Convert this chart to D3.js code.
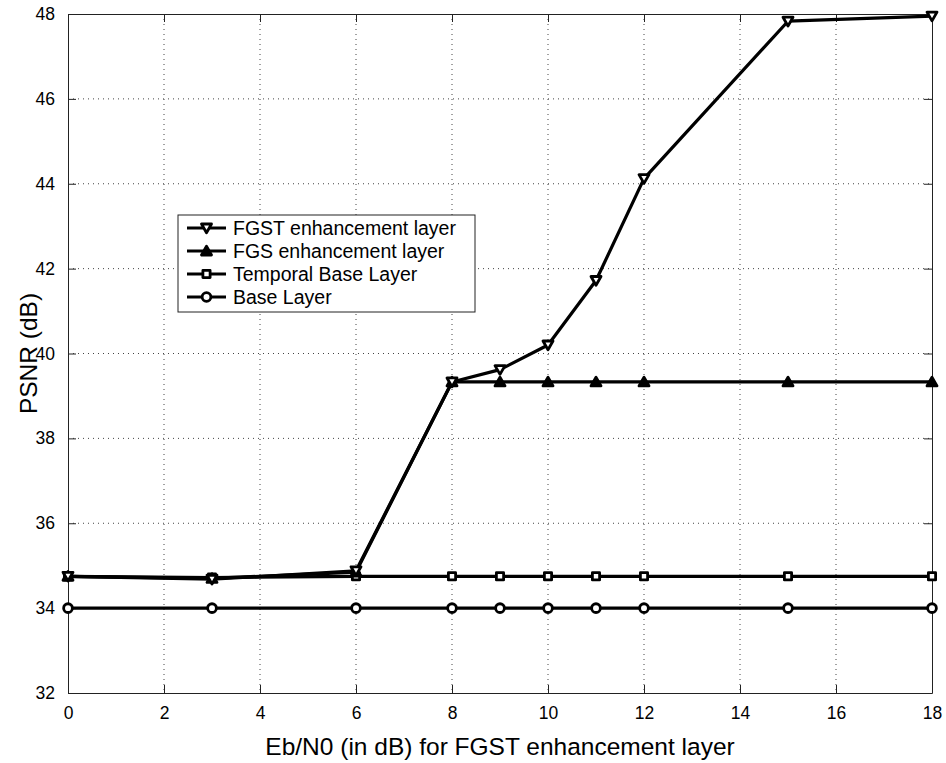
<!DOCTYPE html>
<html>
<head>
<meta charset="utf-8">
<script src="https://cdn.jsdelivr.net/npm/d3@7"></script>
<style>
  body { margin: 0; background: #fff; }
  text { font-family: "Liberation Sans", Arial, Helvetica, sans-serif; }
</style>
</head>
<body>
<div id="chart"></div>
<script>
// data
const ebn0 = [0, 3, 6, 8, 9, 10, 11, 12, 15, 18];
const fgst = [34.75, 34.68, 34.88, 39.33, 39.62, 40.2, 41.72, 44.12, 47.83, 47.95];
const fgs = [34.75, 34.7, 34.85, 39.33, 39.33, 39.33, 39.33, 39.33, 39.33, 39.33];
const temporalBase = [34.75, 34.72, 34.75, 34.75, 34.75, 34.75, 34.75, 34.75, 34.75, 34.75];
const baseLayer = [34, 34, 34, 34, 34, 34, 34, 34, 34, 34];
const xTicks = [0, 2, 4, 6, 8, 10, 12, 14, 16, 18];
const yTicks = [32, 34, 36, 38, 40, 42, 44, 46, 48];

const seriesNames = ["FGST enhancement layer", "FGS enhancement layer", "Temporal Base Layer", "Base Layer"];
const seriesMarkers = ["triDown", "triUp", "square", "circle"];

const WIDTH = 946, HEIGHT = 763;
const margins = { top: 14, left: 68, bottom: 70, right: 14 };
const width = WIDTH - margins.left - margins.right,
    height = HEIGHT - margins.top - margins.bottom;

const svg = d3.select("#chart").append("svg")
    .attr("width", WIDTH)
    .attr("height", HEIGHT);

const xScale = d3.scaleLinear().domain([0, 18]).range([0, width]);
const yScale = d3.scaleLinear().domain([32, 48]).range([height, 0]);

const plot = svg.append("g")
    .attr("transform", `translate(${margins.left}, ${margins.top})`);

// dotted grid
plot.append("g").selectAll("line").data(xTicks.slice(1, -1)).join("line")
    .attr("x1", d => xScale(d)).attr("x2", d => xScale(d))
    .attr("y1", 0).attr("y2", height)
    .attr("stroke", "#444").attr("stroke-width", 1)
    .attr("stroke-dasharray", "1,4");
plot.append("g").selectAll("line").data(yTicks.slice(1, -1)).join("line")
    .attr("y1", d => yScale(d)).attr("y2", d => yScale(d))
    .attr("x1", 0).attr("x2", width)
    .attr("stroke", "#444").attr("stroke-width", 1)
    .attr("stroke-dasharray", "1,4");

// axes, MATLAB style: ticks inward on all four sides
const axisFont = g => g.selectAll("text")
    .attr("font-size", 17.5)
    .attr("fill", "#000")
    .attr("font-family", "Liberation Sans, Arial, sans-serif");
const axisLine = g => g.selectAll(".domain, line").attr("stroke", "#222");

plot.append("g")
    .attr("transform", `translate(0, ${height})`)
    .call(d3.axisBottom(xScale).tickValues(xTicks).tickSize(-8).tickPadding(14).tickSizeOuter(0))
    .call(axisFont).call(axisLine);
plot.append("g")
    .call(d3.axisTop(xScale).tickValues(xTicks).tickSize(-8).tickFormat("").tickSizeOuter(0))
    .call(axisLine);
plot.append("g")
    .call(d3.axisLeft(yScale).tickValues(yTicks).tickSize(-8).tickPadding(13).tickSizeOuter(0))
    .call(axisFont).call(axisLine);
plot.append("g")
    .attr("transform", `translate(${width}, 0)`)
    .call(d3.axisRight(yScale).tickValues(yTicks).tickSize(-8).tickFormat("").tickSizeOuter(0))
    .call(axisLine);

// marker shapes
const triangle = (dir) => ({
    draw(ctx, size) {
        const r = Math.sqrt(size) / 2;
        ctx.moveTo(-r, -r * 0.8 * dir);
        ctx.lineTo(r, -r * 0.8 * dir);
        ctx.lineTo(0, r * 0.95 * dir);
        ctx.closePath();
    }
});
const markerSymbol = {
    triDown: triangle(1),
    triUp: triangle(-1),
    square: d3.symbolSquare,
    circle: d3.symbolCircle
};
const markerSize = { triDown: 100, triUp: 100, square: 52, circle: 60 };
const markerFill = { triDown: "#fff", triUp: "#000", square: "#fff", circle: "#fff" };

const drawMarker = (g, marker, x, y) => {
    g.append("path")
        .attr("transform", `translate(${x}, ${y})`)
        .attr("d", d3.symbol().type(markerSymbol[marker]).size(markerSize[marker])())
        .attr("fill", markerFill[marker])
        .attr("stroke", "#000")
        .attr("stroke-width", 2.8)
        .attr("stroke-linejoin", "round");
};

const allSeries = [fgst, fgs, temporalBase, baseLayer];
const line = d3.line()
    .x((d, i) => xScale(ebn0[i]))
    .y(d => yScale(d));

const linesG = plot.append("g");
allSeries.slice().reverse().forEach((vals, ri) => {
    const k = allSeries.length - 1 - ri;
    linesG.append("path")
        .attr("d", line(vals))
        .attr("fill", "none")
        .attr("stroke", "#000")
        .attr("stroke-width", 3.2)
        .attr("stroke-linejoin", "round");
    vals.forEach((v, i) => drawMarker(linesG, seriesMarkers[k], xScale(ebn0[i]), yScale(v)));
});

// legend
const legend = svg.append("g").attr("transform", "translate(178, 215)");
legend.append("rect")
    .attr("width", 297).attr("height", 97)
    .attr("fill", "#fff").attr("stroke", "#222").attr("stroke-width", 1);
seriesNames.forEach((name, i) => {
    const y = 13 + i * 23;
    legend.append("line")
        .attr("x1", 9).attr("x2", 48).attr("y1", y).attr("y2", y)
        .attr("stroke", "#000").attr("stroke-width", 3.2);
    drawMarker(legend, seriesMarkers[i], 28.5, y);
    legend.append("text")
        .attr("x", 55).attr("y", y + 7)
        .attr("font-size", 19.5)
        .text(name);
});

// axis labels
svg.append("text")
    .attr("x", margins.left + width / 2)
    .attr("y", HEIGHT - 8)
    .attr("text-anchor", "middle")
    .attr("font-size", 24.5)
    .text("Eb/N0 (in dB) for FGST enhancement layer");

svg.append("text")
    .attr("transform", `translate(37, ${margins.top + height / 2}) rotate(-90)`)
    .attr("text-anchor", "middle")
    .attr("font-size", 24.5)
    .text("PSNR (dB)");
</script>
</body>
</html>
